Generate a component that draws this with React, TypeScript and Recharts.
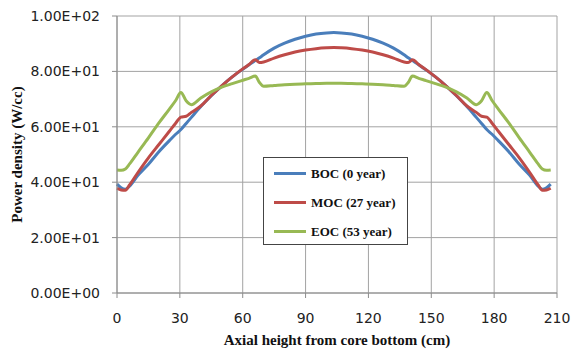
import {
  LineChart,
  Line,
  XAxis,
  YAxis,
  CartesianGrid,
  Label,
} from "recharts";

// axial positions (cm)
const xValues = [
  0, 2, 4, 6, 10, 15, 20, 25, 28, 30.5, 33, 35.5, 40, 45, 50, 55, 60, 63, 66,
  68, 70, 75, 80, 85, 90, 95, 100, 103.5, 107, 112, 117, 122, 127, 132, 137,
  139, 141, 144, 147, 152, 157, 162, 167, 171.5, 174, 176.5, 179, 182, 187,
  192, 197, 201, 203, 205, 207,
];

const bocValues = [
  39.3, 38.0, 37.5, 38.6, 42.5, 46.5, 51.0, 55.0, 57.3, 59.0, 61.2, 63.4, 67.3,
  71.2, 74.8, 78.0, 80.8, 82.4, 83.9, 84.9, 86.0, 88.4, 90.2, 91.6, 92.7, 93.5,
  93.9, 94.0, 93.9, 93.5, 92.7, 91.6, 90.2, 88.4, 86.0, 84.9, 83.9, 82.4, 80.8,
  78.0, 74.8, 71.2, 67.3, 63.4, 61.2, 59.0, 57.3, 55.0, 51.0, 46.5, 42.5, 38.6,
  37.5, 38.0, 39.3,
];

const mocValues = [
  37.8, 37.2, 37.1, 39.0, 43.5, 48.8, 53.6, 58.4, 61.3, 63.5, 63.8, 65.2, 67.5,
  71.3, 74.8, 78.0, 80.9, 82.5, 84.2, 83.2, 83.4, 84.8, 86.0, 87.0, 87.7, 88.2,
  88.5, 88.6, 88.5, 88.2, 87.7, 87.0, 86.0, 84.8, 83.4, 83.2, 84.2, 82.5, 80.9,
  78.0, 74.8, 71.3, 67.5, 65.2, 63.8, 63.5, 61.3, 58.4, 53.6, 48.8, 43.5, 39.0,
  37.1, 37.2, 37.8,
];

const eocValues = [
  44.4, 44.3, 44.8, 46.6, 50.8, 56.0, 61.4, 66.4, 69.5, 72.4, 69.4, 68.0, 70.4,
  72.6, 74.3, 75.6, 76.8, 77.5, 78.3, 76.0, 74.6, 74.9, 75.2, 75.4, 75.5, 75.6,
  75.7, 75.7, 75.7, 75.6, 75.5, 75.4, 75.2, 74.9, 74.6, 76.0, 78.3, 77.5, 76.8,
  75.6, 74.3, 72.6, 70.4, 68.0, 69.4, 72.4, 69.5, 66.4, 61.4, 56.0, 50.8, 46.6,
  44.8, 44.3, 44.4,
];

const xTicks = [0, 30, 60, 90, 120, 150, 180, 210];
const yTicks = [0, 20, 40, 60, 80, 100];
const yTickLabels = [
  "0.00E+00",
  "2.00E+01",
  "4.00E+01",
  "6.00E+01",
  "8.00E+01",
  "1.00E+02",
];

const series = [
  { key: "boc", name: "BOC (0 year)", color: "#4A7EBB" },
  { key: "moc", name: "MOC (27 year)", color: "#BE4B48" },
  { key: "eoc", name: "EOC (53 year)", color: "#98B954" },
];

const data = xValues.map((x, i) => ({
  x,
  boc: bocValues[i],
  moc: mocValues[i],
  eoc: eocValues[i],
}));

const tickStyle = { fill: "#222", fontSize: 14, fontFamily: "DejaVu Sans" };
const titleFont = "'Liberation Serif', 'Times New Roman', serif";

function LegendBox() {
  return (
    <div style={styles.legend}>
      {series.map((s) => (
        <div key={s.key} style={styles.legendRow}>
          <span
            style={{
              display: "inline-block",
              width: 32,
              height: 3,
              background: s.color,
              marginRight: 5,
            }}
          />
          <span style={styles.legendText}>{s.name}</span>
        </div>
      ))}
    </div>
  );
}

export default function App() {
  return (
    <div style={styles.page}>
      <LineChart
        width={572}
        height={354}
        data={data}
        margin={{ top: 16, right: 15, left: 0, bottom: 0 }}
      >
        <CartesianGrid stroke="#a3a3a3" strokeWidth={1} />
        <XAxis
          dataKey="x"
          type="number"
          domain={[0, 210]}
          ticks={xTicks}
          interval={0}
          height={61}
          tickSize={5}
          tickMargin={15}
          stroke="#8c8c8c"
          tick={tickStyle}
        >
          <Label
            content={(p: any) => (
              <text
                x={p.viewBox.x + p.viewBox.width / 2}
                y={p.viewBox.y + 52}
                textAnchor="middle"
                fontFamily={titleFont}
                fontWeight="bold"
                fontSize={15}
                fill="#111"
              >
                Axial height from core bottom (cm)
              </text>
            )}
          />
        </XAxis>
        <YAxis
          domain={[0, 100]}
          ticks={yTicks}
          interval={0}
          width={117}
          tickSize={5}
          tickMargin={12}
          stroke="#8c8c8c"
          tick={tickStyle}
          tickFormatter={(v: number) => yTickLabels[yTicks.indexOf(v)]}
        >
          <Label
            content={(p: any) => {
              const cx = p.viewBox.x + 22;
              const cy = p.viewBox.y + p.viewBox.height / 2;
              return (
                <text
                  x={cx}
                  y={cy}
                  transform={`rotate(-90 ${cx} ${cy})`}
                  textAnchor="middle"
                  fontFamily={titleFont}
                  fontWeight="bold"
                  fontSize={15}
                  fill="#111"
                >
                  Power density (W/cc)
                </text>
              );
            }}
          />
        </YAxis>
        {series.map((s) => (
          <Line
            key={s.key}
            type="monotone"
            dataKey={s.key}
            name={s.name}
            stroke={s.color}
            strokeWidth={3}
            dot={false}
            activeDot={false}
            isAnimationActive={false}
          />
        ))}
      </LineChart>
      <LegendBox />
    </div>
  );
}

const styles: any = {
  page: {
    position: "absolute",
    left: 0,
    top: 0,
    width: 572,
    height: 354,
    background: "white",
  },
  legend: {
    position: "absolute",
    left: 263,
    top: 157,
    width: 145,
    height: 88,
    boxSizing: "border-box",
    border: "1px solid #444",
    background: "white",
    paddingTop: 1,
    paddingLeft: 10,
  },
  legendRow: {
    height: 29,
    display: "flex",
    alignItems: "center",
  },
  legendText: {
    fontFamily: "'Liberation Serif', 'Times New Roman', serif",
    fontWeight: "bold",
    fontSize: 13,
    color: "#111",
    whiteSpace: "nowrap",
  },
};
